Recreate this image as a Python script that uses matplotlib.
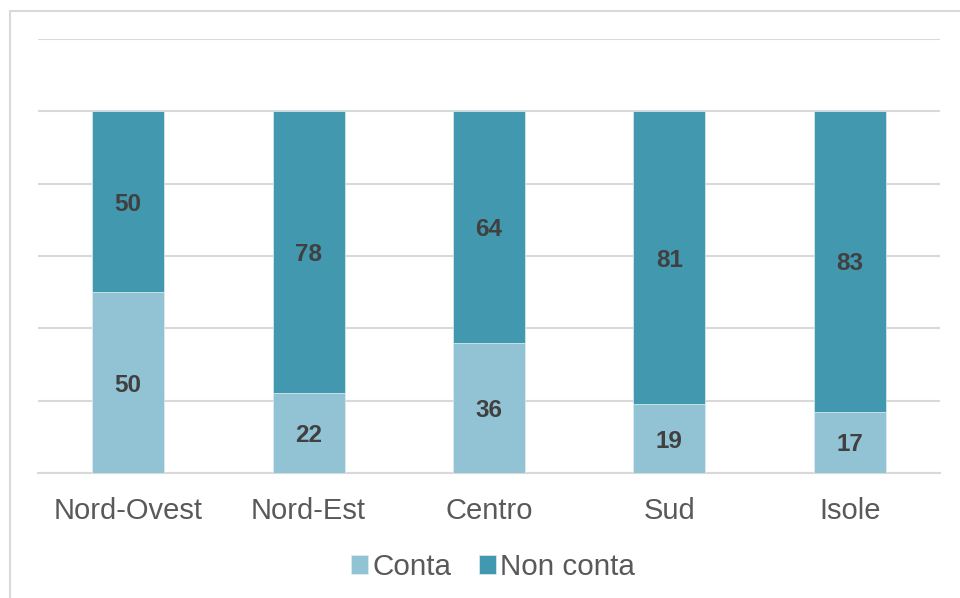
import numpy as np
import matplotlib
matplotlib.use("Agg")
import matplotlib.pyplot as plt
from matplotlib.patches import Rectangle

regions = ["Nord-Ovest", "Nord-Est", "Centro", "Sud", "Isole"]
conta = [50, 22, 36, 19, 17]
non_conta = [50, 78, 64, 81, 83]
series_names = ["Conta", "Non conta"]

plt.rcParams['font.family'] = ['Liberation Sans', 'DejaVu Sans']

C_LIGHT = "#92C3D4"
C_DARK = "#4198AF"
GRID = "#D9D9D9"

fig = plt.figure(figsize=(9.6, 5.98), dpi=100)
ax = fig.add_axes([38 / 960, 1 - 473 / 598, 902 / 960, 434 / 598])

x = np.arange(len(regions))
b1 = ax.bar(x, conta, width=0.4, color=C_LIGHT, edgecolor="#DDEEF3", linewidth=0.5,
            label=series_names[0], zorder=3)
b2 = ax.bar(x, non_conta, width=0.4, bottom=conta, color=C_DARK, edgecolor="#DDEEF3",
            linewidth=0.5, label=series_names[1], zorder=3)

for xi, c, n in zip(x, conta, non_conta):
    ax.text(xi, c / 2, f"{c}", ha="center", va="center_baseline", fontsize=17.5,
            fontweight="bold", color="#404040", zorder=4)
    ax.text(xi, c + n / 2, f"{n}", ha="center", va="center_baseline", fontsize=17.5,
            fontweight="bold", color="#404040", zorder=4)

ax.set_xlim(-0.5, len(regions) - 0.5)
ax.set_ylim(0, 120)
ax.set_yticks(np.arange(0, 121, 20))
ax.yaxis.grid(True, color=GRID, lw=1.5, zorder=0)
ax.tick_params(axis="y", left=False, labelleft=False)
ax.tick_params(axis="x", length=0, pad=17, labelsize=21, labelcolor="#595959")
ax.set_xticks(x)
ax.set_xticklabels(regions)
for s in ["top", "right", "left"]:
    ax.spines[s].set_visible(False)
ax.spines["bottom"].set_color(GRID)
ax.spines["bottom"].set_linewidth(1.5)

leg = fig.legend(handles=[b1, b2], loc="center", bbox_to_anchor=(493 / 960, 1 - 567 / 598),
                 ncol=2, frameon=False, fontsize=21.3, handlelength=0.58, handleheight=0.58,
                 handletextpad=0.12, columnspacing=0.95, borderaxespad=0)
for t in leg.get_texts():
    t.set_color("#595959")

# chart frame (only top and left edges fall inside the picture)
fig.patches.append(Rectangle((9.5 / 960, -0.2), 1.5, 1 - 10.5 / 598 + 0.2,
                             transform=fig.transFigure, fill=False,
                             edgecolor=GRID, lw=1.5, zorder=0))

fig.savefig("out.png", dpi=100)
